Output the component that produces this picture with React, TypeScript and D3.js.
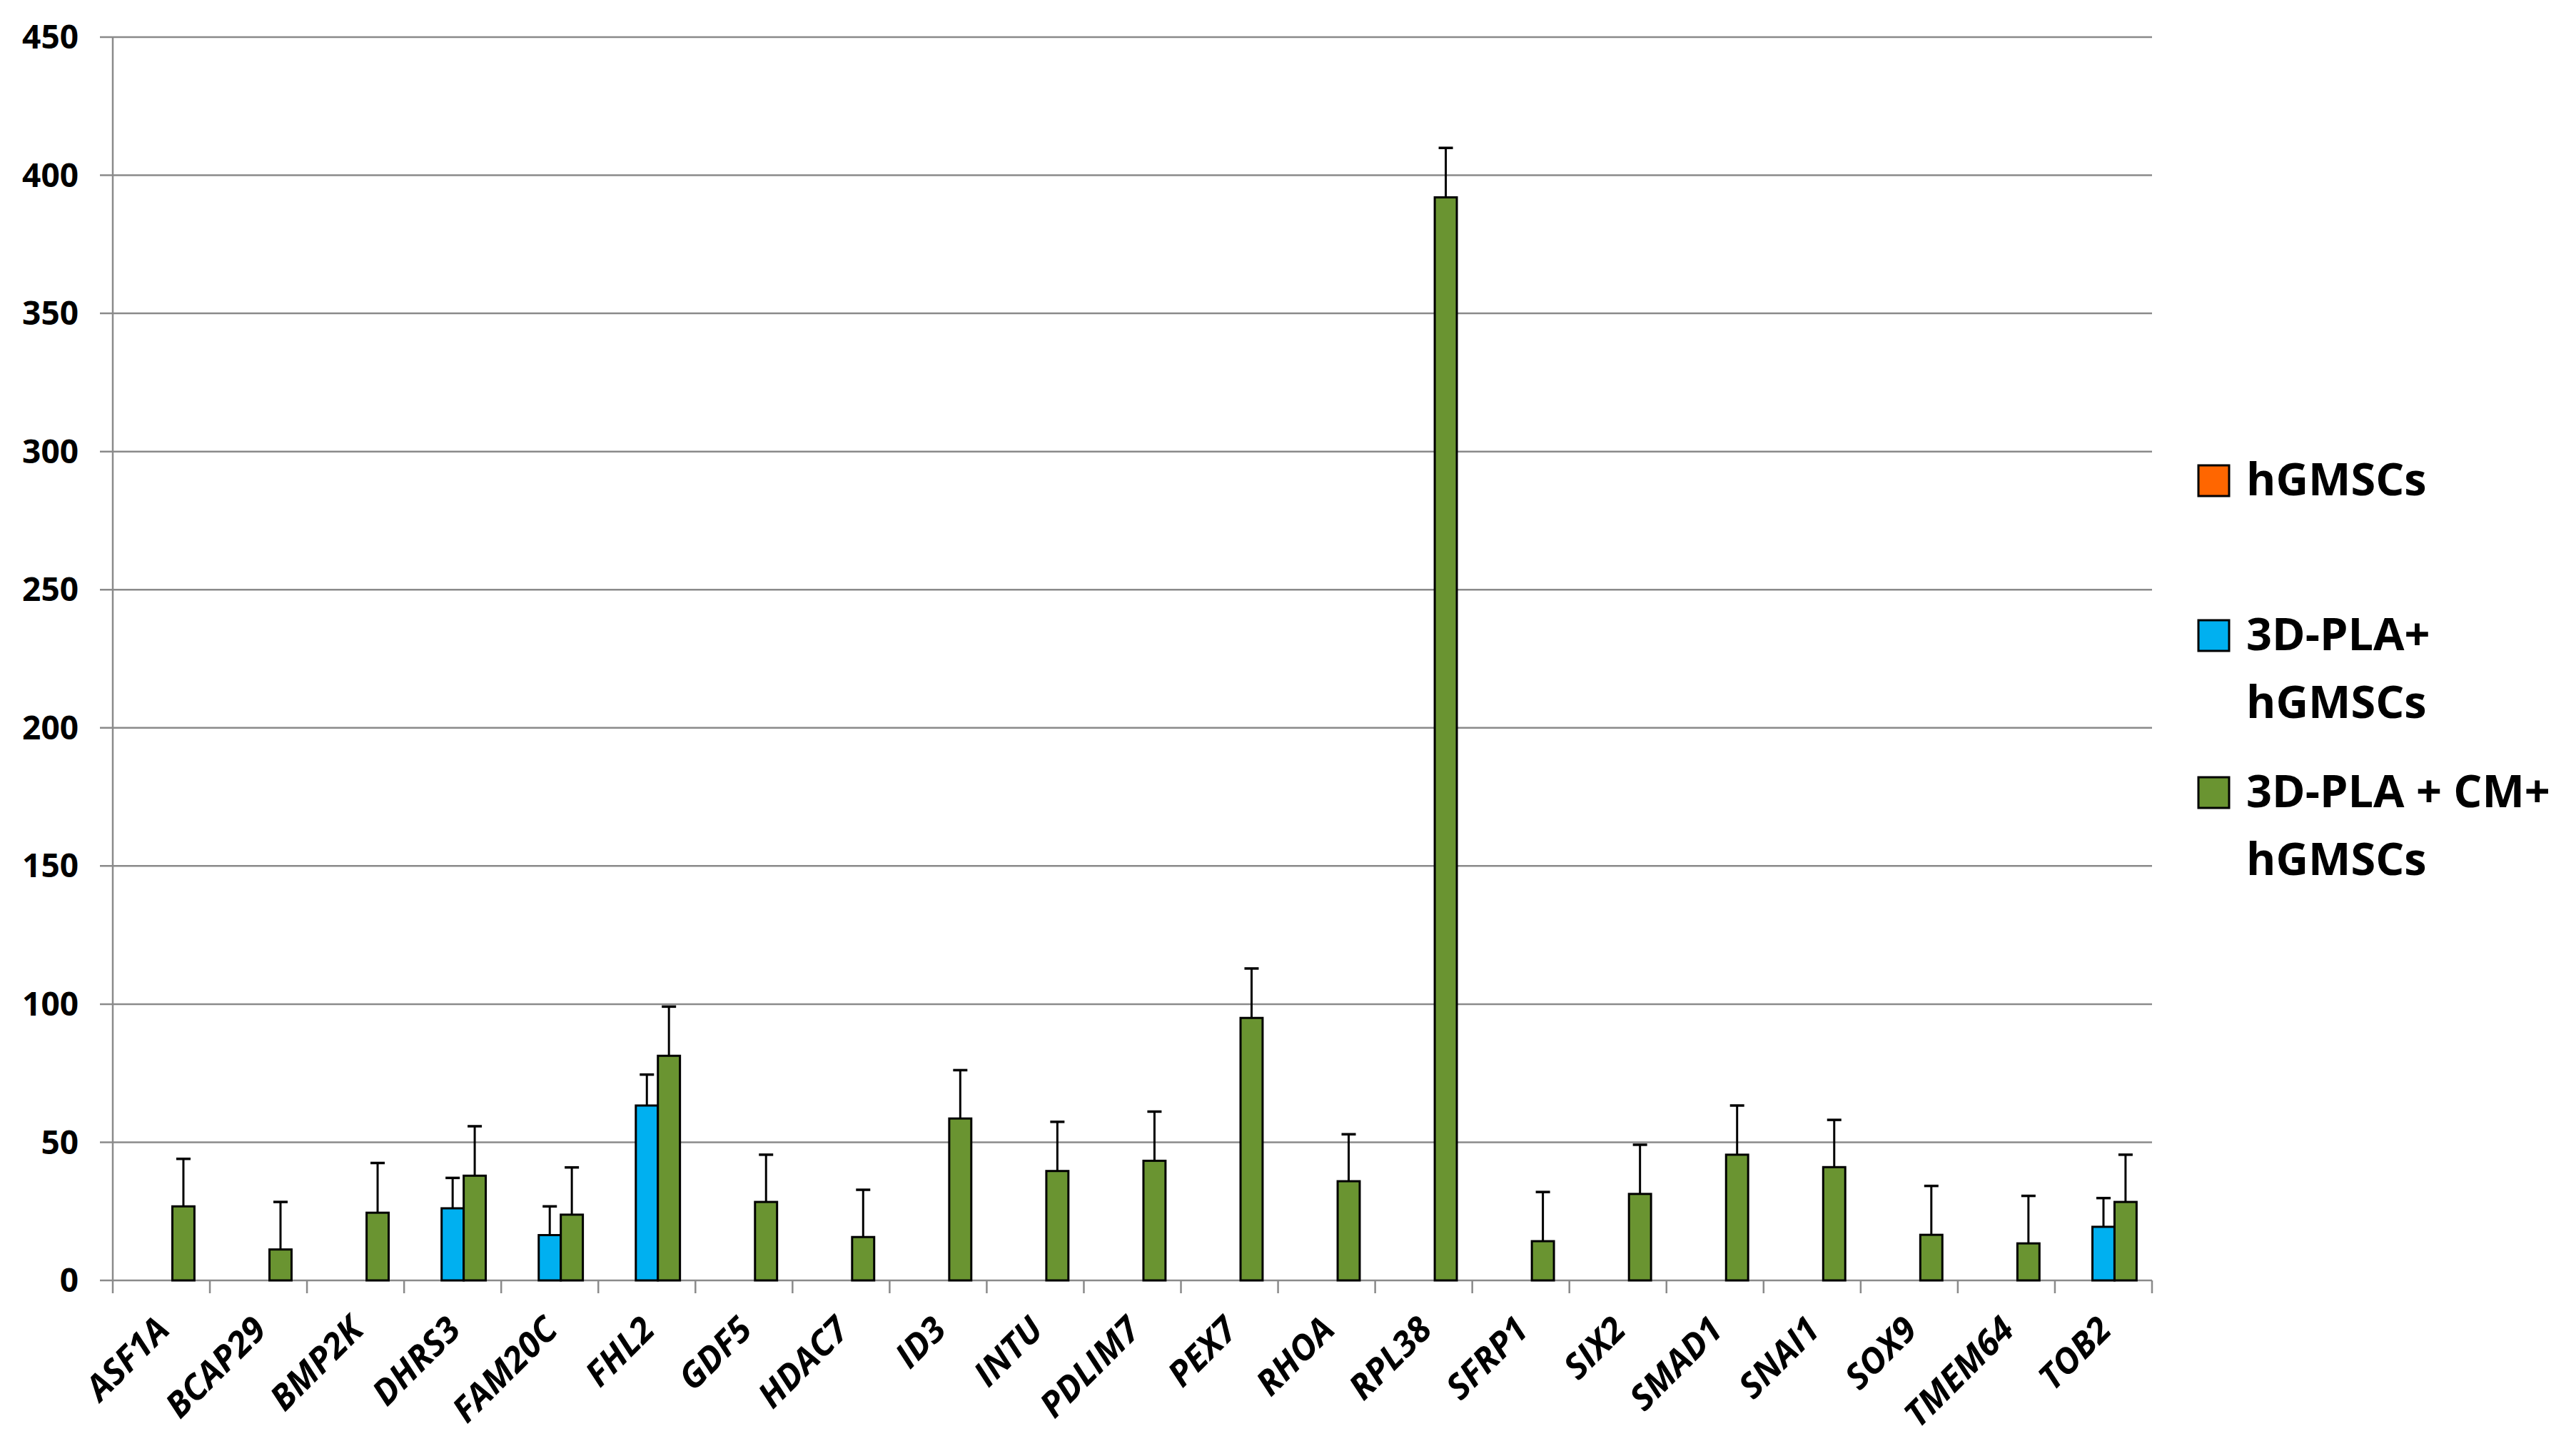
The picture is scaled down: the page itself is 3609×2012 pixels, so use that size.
import React, { useEffect } from 'react';
import * as d3 from 'd3';

const genes = [
  'ASF1A', 'BCAP29', 'BMP2K', 'DHRS3', 'FAM20C', 'FHL2', 'GDF5', 'HDAC7', 'ID3', 'INTU', 'PDLIM7',
  'PEX7', 'RHOA', 'RPL38', 'SFRP1', 'SIX2', 'SMAD1', 'SNAI1', 'SOX9', 'TMEM64', 'TOB2',
];

const seriesNames = ['hGMSCs', '3D-PLA+ hGMSCs', '3D-PLA + CM+ hGMSCs'];

// hGMSCs (control) - all zero, nothing drawn
const hgmscValues = [0, 0, 0, 0, 0, 0, 0, 0, 0, 0, 0, 0, 0, 0, 0, 0, 0, 0, 0, 0, 0];
const hgmscErr = [0, 0, 0, 0, 0, 0, 0, 0, 0, 0, 0, 0, 0, 0, 0, 0, 0, 0, 0, 0, 0];

const plaValues = [0, 0, 0, 26.1, 16.4, 63.3, 0, 0, 0, 0, 0, 0, 0, 0, 0, 0, 0, 0, 0, 0, 19.4];
const plaErr = [0, 0, 0, 11.0, 10.4, 11.2, 0, 0, 0, 0, 0, 0, 0, 0, 0, 0, 0, 0, 0, 0, 10.4];

const cmValues = [
  26.8, 11.2, 24.5, 37.9, 23.8, 81.3, 28.4, 15.7, 58.6, 39.6, 43.3,
  95.0, 35.9, 392.0, 14.2, 31.3, 45.5, 41.0, 16.5, 13.4, 28.4,
];
const cmErr = [
  17.2, 17.2, 18.0, 17.9, 17.1, 17.8, 17.1, 17.1, 17.5, 17.8, 17.8,
  17.9, 17.0, 17.9, 17.8, 17.8, 17.8, 17.1, 17.7, 17.2, 17.1,
];

const yTicks = [0, 50, 100, 150, 200, 250, 300, 350, 400, 450];

const colors = ['#ff6600', '#00b0f0', '#6a9431'];

const W = 3609;
const H = 2012;
const plot = { left: 158, right: 3015, top: 52, bottom: 1794 };

export default function App() {
  useEffect(() => {
    document.body.style.margin = '0';
  }, []);

  const x = d3.scaleBand<string>().domain(genes).range([plot.left, plot.right]).paddingInner(0).paddingOuter(0);
  const y = d3.scaleLinear().domain([0, 450]).range([plot.bottom, plot.top]);
  const bw = x.bandwidth();
  const barW = bw / 4.4;
  const groupW = barW * 3;

  const series = [
    { name: seriesNames[0], values: hgmscValues, err: hgmscErr, color: colors[0] },
    { name: seriesNames[1], values: plaValues, err: plaErr, color: colors[1] },
    { name: seriesNames[2], values: cmValues, err: cmErr, color: colors[2] },
  ];

  const gridColor = '#8a8a8a';

  const legend = [
    { lines: ['hGMSCs'], color: colors[0], top: 652 },
    { lines: ['3D-PLA+', 'hGMSCs'], color: colors[1], top: 869 },
    { lines: ['3D-PLA + CM+', 'hGMSCs'], color: colors[2], top: 1089 },
  ];

  return (
    <svg width={W} height={H} style={{ display: 'block', background: '#fff' }}>
      <rect x={0} y={0} width={W} height={H} fill="#fff" />
      {/* gridlines + y ticks */}
      {yTicks.map((t) => (
        <g key={t}>
          <line x1={plot.left - 18} x2={plot.right} y1={y(t)} y2={y(t)} stroke={gridColor} strokeWidth={2.5} />
          <text
            x={110}
            y={y(t)}
            dy="0.35em"
            textAnchor="end"
            fontFamily="'Open Sans', sans-serif"
            fontWeight="bold"
            fontSize={46}
            fill="#000"
          >
            {t}
          </text>
        </g>
      ))}
      {/* y axis */}
      <line x1={plot.left} x2={plot.left} y1={plot.top} y2={plot.bottom + 18} stroke={gridColor} strokeWidth={2.5} />
      {/* x ticks at category boundaries */}
      {genes.map((g) => (
        <line
          key={'t' + g}
          x1={(x(g) as number) + bw}
          x2={(x(g) as number) + bw}
          y1={plot.bottom}
          y2={plot.bottom + 18}
          stroke={gridColor}
          strokeWidth={2.5}
        />
      ))}
      {/* bars */}
      {series.map((s, si) =>
        genes.map((g, i) => {
          const v = s.values[i];
          if (v <= 0) return null;
          const x0 = (x(g) as number) + bw / 2 - groupW / 2 + si * barW;
          const cx = x0 + barW / 2;
          const top = y(v + s.err[i]);
          return (
            <g key={s.name + g}>
              <line x1={cx} x2={cx} y1={y(v)} y2={top} stroke="#000" strokeWidth={3} />
              <line x1={cx - 10} x2={cx + 10} y1={top} y2={top} stroke="#000" strokeWidth={3.5} />
              <rect x={x0} y={y(v)} width={barW} height={y(0) - y(v)} fill={s.color} stroke="#000" strokeWidth={3} />
            </g>
          );
        })
      )}
      {/* x labels */}
      {genes.map((g) => {
        const cx = (x(g) as number) + bw / 2 + 14;
        const cy = plot.bottom + 72;
        return (
          <text
            key={'l' + g}
            x={cx}
            y={cy}
            transform={`rotate(-45 ${cx} ${cy})`}
            textAnchor="end"
            fontFamily="'Open Sans', sans-serif"
            fontWeight="bold"
            fontStyle="italic"
            fontSize={49}
            fill="#000"
          >
            {g}
          </text>
        );
      })}
      {/* legend */}
      {legend.map((l) => (
        <g key={l.lines.join(' ')}>
          <rect x={3080} y={l.top} width={43} height={43} fill={l.color} stroke="#000" strokeWidth={3} />
          {l.lines.map((line, li) => (
            <text
              key={line}
              x={3147}
              y={l.top + 42 + li * 95}
              fontFamily="'Open Sans', sans-serif"
              fontWeight="bold"
              fontSize={63}
              fill="#000"
            >
              {line}
            </text>
          ))}
        </g>
      ))}
    </svg>
  );
}
